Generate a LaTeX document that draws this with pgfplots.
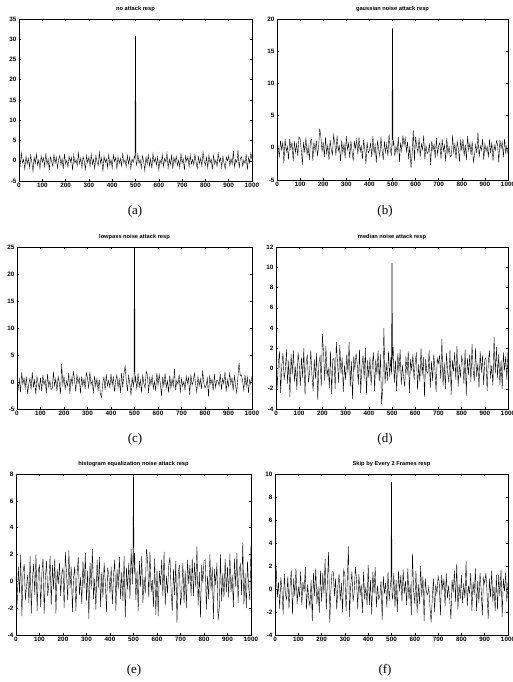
\documentclass[border=0pt]{standalone}
\usepackage{fontspec}
\setmainfont{Liberation Sans}
\newfontfamily\capfont{Liberation Serif}
\usepackage{pgfplots}
\pgfplotsset{compat=1.18}
\pgfplotsset{resp/.style={
  scale only axis,
  xmin=0, xmax=1000,
  xtick={0,100,...,1000},
  axis line style={line width=0.6pt},
  major tick style={line width=0.5pt, black},
  major tick length=2.2pt,
  tick align=inside,
  ticklabel style={font=\fontsize{6.3}{7}\selectfont\bfseries},
  xticklabel style={yshift=1pt},
  yticklabel style={xshift=1pt},
  /pgf/number format/assume math mode=true,
  /pgf/number format/1000 sep={},
  title style={font=\fontsize{5.7}{6}\selectfont\bfseries, yshift=-2.5pt},
  cycle list={{black, line width=1pt, mark=none, line join=round}},
}}
\begin{document}
\begin{tikzpicture}
\path[use as bounding box] (0,0) rectangle (512pt,-682pt);

% (a) no attack
\begin{axis}[resp, at={(19pt,-181pt)}, anchor=south west, width=233pt, height=162pt,
  ymin=-5, ymax=35, ytick={-5,0,...,35}, title={no attack resp}]
\addplot coordinates {
(0,0.8)(5,-1.2)(10,1.9)(15,-0.5)(20,0.3)(25,-2.1)(30,1.1)(35,-0.8)(40,0.6)(45,-1.6)
(50,1.4)(55,-0.3)(60,-2.6)(65,0.9)(70,-0.7)(75,1.6)(80,-1.1)(85,0.2)(90,-1.9)(95,1.2)
(100,-0.4)(105,0.7)(110,-1.4)(115,1.8)(120,-0.9)(125,0.4)(130,-2.3)(135,1.0)(140,-0.2)(145,-1.3)
(150,1.5)(155,-0.6)(160,0.9)(165,-1.8)(170,0.3)(175,1.3)(180,-1.0)(185,0.5)(190,-2.0)(195,1.7)
(200,-0.8)(205,0.1)(210,-1.5)(215,1.1)(220,-0.3)(225,0.8)(230,-2.4)(235,1.4)(240,-0.6)(245,0.2)
(250,-1.2)(255,1.9)(260,-0.7)(265,0.6)(270,-1.7)(275,1.0)(280,-0.1)(285,-2.2)(290,1.3)(295,-0.5)
(300,0.9)(305,-1.4)(310,1.6)(315,-0.9)(320,0.4)(325,-1.9)(330,1.2)(335,-0.3)(340,-1.1)(345,2.0)
(350,-0.6)(355,0.7)(360,-2.7)(365,1.1)(370,-0.4)(375,0.5)(380,-1.6)(385,1.5)(390,-1.0)(395,0.3)
(400,-1.8)(405,1.4)(410,-0.2)(415,0.8)(420,-2.1)(425,1.0)(430,-0.7)(435,0.6)(440,-1.3)(445,1.7)
(450,-0.5)(455,0.2)(460,-1.5)(465,1.3)(470,-0.8)(475,0.9)(480,-2.0)(485,0.4)(490,-0.4)(495,1.1)
(498,0.6)(499.5,30.8)(500.5,30.8)(502,-0.4)
(505,-1.0)(510,1.6)(515,-0.6)(520,0.3)(525,-1.7)(530,1.2)(535,-0.2)(540,-2.5)(545,0.9)(550,-0.8)
(555,1.4)(560,-1.3)(565,0.5)(570,-1.9)(575,1.8)(580,-0.4)(585,0.7)(590,-1.1)(595,1.0)(600,-2.2)
(605,0.2)(610,-0.7)(615,1.5)(620,-1.4)(625,0.6)(630,-0.3)(635,1.9)(640,-1.8)(645,0.4)(650,-0.9)
(655,1.3)(660,-2.0)(665,0.8)(670,-0.5)(675,1.1)(680,-1.2)(685,0.1)(690,-1.6)(695,1.7)(700,-0.6)
(705,0.5)(710,-2.3)(715,1.2)(720,-0.1)(725,0.9)(730,-1.5)(735,1.4)(740,-0.8)(745,0.3)(750,-1.0)
(755,1.6)(760,-0.4)(765,-1.9)(770,1.0)(775,-0.7)(780,0.6)(785,-1.3)(790,2.1)(795,-0.2)(800,-1.1)
(805,0.8)(810,-1.7)(815,1.3)(820,-0.5)(825,0.4)(830,-2.1)(835,1.5)(840,-0.9)(845,0.2)(850,-1.4)
(855,1.8)(860,-0.3)(865,0.7)(870,-1.6)(875,1.1)(880,-0.6)(885,-2.0)(890,0.9)(895,-0.1)(900,1.2)
(905,-1.2)(910,0.5)(915,-0.8)(920,2.4)(925,-1.5)(930,0.3)(935,-0.4)(940,2.6)(945,-1.9)(950,0.6)
(955,1.0)(960,-1.3)(965,0.2)(970,-0.7)(975,1.7)(980,-2.2)(985,0.8)(990,-0.5)(995,1.9)(1000,0.4)
};
\end{axis}

% (b) gaussian noise
\begin{axis}[resp, at={(277pt,-180pt)}, anchor=south west, width=231pt, height=161pt,
  ymin=-5, ymax=20, ytick={-5,0,...,20}, title={gaussian noise attack resp}]
\addplot coordinates {
(0,-0.8)(5,0.1)(10,-1.5)(15,1.1)(20,-0.3)(25,0.8)(30,-2.4)(35,1.4)(40,-0.6)(45,0.2)
(50,-1.8)(55,1.4)(60,-0.2)(65,0.8)(70,-2.1)(75,1.0)(80,-0.7)(85,0.6)(90,-1.3)(95,1.7)
(100,1.4)(105,-0.3)(110,-2.6)(115,0.9)(120,-0.7)(125,1.6)(130,-1.1)(135,0.2)(140,-1.9)(145,1.2)
(150,1.3)(155,-2.0)(160,0.8)(165,-0.5)(170,1.1)(175,-1.2)(180,0.1)(185,3.0)(190,1.7)(195,-0.6)
(200,0.9)(205,-1.4)(210,1.6)(215,-0.9)(220,0.4)(225,-1.9)(230,1.2)(235,-0.3)(240,-1.1)(245,2.0)
(250,0.8)(255,-1.2)(260,1.9)(265,-0.5)(270,0.3)(275,-2.1)(280,1.1)(285,-0.8)(290,0.6)(295,-1.6)
(300,1.8)(305,-0.3)(310,0.7)(315,-1.6)(320,1.1)(325,-0.6)(330,-2.0)(335,0.9)(340,-0.1)(345,1.2)
(350,-1.0)(355,1.6)(360,-0.6)(365,0.3)(370,-1.7)(375,1.2)(380,-0.2)(385,-2.5)(390,0.9)(395,-0.8)
(400,-0.4)(405,0.7)(410,-1.4)(415,1.8)(420,-0.9)(425,0.4)(430,-2.3)(435,1.0)(440,-0.2)(445,-1.3)
(450,1.6)(455,-0.4)(460,-1.9)(465,1.0)(470,-0.7)(475,0.6)(480,-1.3)(485,2.1)(490,-0.2)(495,-1.1)
(498,0.9)(499.5,18.5)(500.5,18.5)(502,0.3)
(505,1.0)(510,-1.3)(515,0.2)(520,-0.7)(525,1.7)(530,-2.2)(535,0.8)(540,-0.5)(545,1.9)(550,0.4)
(555,1.5)(560,-0.6)(565,0.9)(570,-1.8)(575,0.3)(580,-3.1)(585,-1.0)(590,2.7)(595,-2.0)(600,1.7)
(605,0.2)(610,-0.7)(615,1.5)(620,-1.4)(625,0.6)(630,-0.3)(635,1.9)(640,-1.8)(645,0.4)(650,-0.9)
(655,-0.6)(660,0.7)(665,-2.7)(670,1.1)(675,-0.4)(680,0.5)(685,-1.6)(690,1.5)(695,-1.0)(700,0.3)
(705,0.8)(710,-1.7)(715,1.3)(720,-0.5)(725,0.4)(730,-2.1)(735,1.5)(740,-0.9)(745,0.2)(750,-1.4)
(755,-1.2)(760,1.9)(765,-0.7)(770,0.6)(775,-1.7)(780,1.0)(785,-0.1)(790,-2.2)(795,1.3)(800,-0.5)
(805,1.4)(810,-1.3)(815,0.5)(820,-1.9)(825,1.8)(830,-0.4)(835,0.7)(840,-1.1)(845,1.0)(850,-2.2)
(855,-1.2)(860,0.5)(865,-0.8)(870,2.4)(875,-1.5)(880,0.3)(885,-0.4)(890,1.4)(895,-1.9)(900,0.6)
(905,-0.5)(910,0.2)(915,-1.5)(920,1.3)(925,-0.8)(930,0.9)(935,-2.0)(940,0.4)(945,-0.4)(950,1.1)
(955,0.5)(960,-2.3)(965,1.2)(970,-0.1)(975,0.9)(980,-1.5)(985,1.4)(990,-0.8)(995,0.3)(1000,-1.0)
};
\end{axis}

% (c) lowpass noise
\begin{axis}[resp, at={(17pt,-409pt)}, anchor=south west, width=235pt, height=162pt,
  ymin=-5, ymax=25, ytick={-5,0,...,25}, title={lowpass noise attack resp}]
\addplot coordinates {
(0,1.4)(5,-1.3)(10,0.5)(15,-1.9)(20,1.8)(25,-0.4)(30,0.7)(35,-1.1)(40,1.0)(45,-2.2)
(50,-0.4)(55,0.7)(60,-1.4)(65,1.8)(70,-0.9)(75,0.4)(80,-2.3)(85,1.0)(90,-0.2)(95,-1.3)
(100,0.8)(105,-1.7)(110,1.3)(115,-0.5)(120,0.4)(125,-2.1)(130,1.5)(135,-0.9)(140,0.2)(145,-1.4)
(150,-1.2)(155,1.9)(160,-0.7)(165,0.6)(170,-1.7)(175,1.0)(180,-0.1)(185,-2.2)(190,3.3)(195,-0.5)
(200,1.0)(205,-1.3)(210,0.2)(215,-0.7)(220,1.7)(225,-2.2)(230,0.8)(235,-0.5)(240,1.9)(245,0.4)
(250,-1.8)(255,1.4)(260,-0.2)(265,0.8)(270,-2.1)(275,1.0)(280,-0.7)(285,0.6)(290,-1.3)(295,1.7)
(300,0.8)(305,-1.2)(310,1.9)(315,-0.5)(320,0.3)(325,-2.1)(330,1.1)(335,-0.8)(340,0.6)(345,-1.6)
(350,0.5)(355,-2.3)(360,-2.9)(365,-0.1)(370,0.9)(375,-1.5)(380,1.4)(385,-0.8)(390,0.3)(395,-1.0)
(400,1.5)(405,-0.6)(410,0.9)(415,-1.8)(420,0.3)(425,1.3)(430,-1.0)(435,0.5)(440,-2.0)(445,1.7)
(450,-1.0)(455,1.6)(460,2.9)(465,0.3)(470,-1.7)(475,1.2)(480,-0.2)(485,-2.5)(490,0.9)(495,-0.8)
(498,0.4)(499.5,28)(500.5,28)(502,-0.2)
(505,0.9)(510,-1.4)(515,1.6)(520,-0.9)(525,0.4)(530,-1.9)(535,1.2)(540,-0.3)(545,-1.1)(550,2.0)
(555,1.3)(560,-2.0)(565,0.8)(570,-0.5)(575,1.1)(580,-1.2)(585,0.1)(590,-1.6)(595,1.7)(600,-0.6)
(605,1.4)(610,-0.3)(615,-2.6)(620,0.9)(625,-0.7)(630,1.6)(635,-1.1)(640,0.2)(645,-1.9)(650,1.2)
(655,-1.2)(660,0.5)(665,-0.8)(670,2.4)(675,-1.5)(680,0.3)(685,-0.4)(690,1.4)(695,-1.9)(700,0.6)
(705,-0.8)(710,0.1)(715,-1.5)(720,1.1)(725,-0.3)(730,0.8)(735,-2.4)(740,1.4)(745,-0.6)(750,0.2)
(755,1.6)(760,-0.4)(765,-1.9)(770,1.0)(775,-0.7)(780,0.6)(785,-1.3)(790,2.1)(795,-0.2)(800,-1.1)
(805,-0.6)(810,0.7)(815,-2.7)(820,1.1)(825,-0.4)(830,0.5)(835,-1.6)(840,1.5)(845,-1.0)(850,0.3)
(855,0.2)(860,-0.7)(865,1.5)(870,-1.4)(875,0.6)(880,-0.3)(885,1.9)(890,-1.8)(895,0.4)(900,-0.9)
(905,1.8)(910,-0.3)(915,0.7)(920,-1.6)(925,1.1)(930,-0.6)(935,-2.0)(940,0.9)(945,3.5)(950,1.2)
(955,1.3)(960,0.2)(965,-1.5)(970,1.3)(975,-0.8)(980,0.9)(985,-2.0)(990,0.4)(995,-0.4)(1000,1.1)
};
\end{axis}

% (d) median noise
\begin{axis}[resp, at={(276pt,-409pt)}, anchor=south west, width=232pt, height=162pt,
  ymin=-4, ymax=12, ytick={-4,-2,...,12}, title={median noise attack resp}]
\addplot coordinates {
(0,1.2)(5,-1.9)(10,0.6)(15,1.7)(20,-2.4)(25,0.3)(30,1.5)(35,-1.1)(40,-0.2)(45,1.9)
(50,-1.5)(55,0.8)(60,-2.8)(65,1.4)(70,-0.6)(75,1.8)(80,-1.3)(85,0.2)(90,-2.1)(95,1.6)
(100,0.4)(105,-1.7)(110,1.1)(115,-0.9)(120,2.0)(125,-2.6)(130,0.7)(135,1.3)(140,-1.4)(145,-0.3)
(150,1.8)(155,-0.7)(160,-2.2)(165,0.9)(170,-1.0)(175,1.5)(180,-3.1)(185,0.5)(190,1.2)(195,-1.8)
(200,3.4)(205,1.6)(210,-1.2)(215,2.2)(220,-0.8)(225,0.1)(230,-1.9)(235,1.7)(240,-2.5)(245,0.9)
(250,1.0)(255,-2.0)(260,2.6)(265,0.6)(270,-1.4)(275,2.3)(280,-0.5)(285,1.1)(290,-2.3)(295,0.3)
(300,-1.1)(305,1.4)(310,-0.4)(315,2.6)(320,-1.8)(325,0.7)(330,-3.0)(335,1.2)(340,-0.1)(345,1.5)
(350,0.5)(355,-1.6)(360,1.9)(365,-2.4)(370,0.2)(375,1.3)(380,-1.0)(385,2.0)(390,-2.6)(395,0.8)
(400,-0.9)(405,1.1)(410,-1.7)(415,0.4)(420,1.6)(425,-2.2)(430,0.9)(435,-0.6)(440,1.8)(445,-1.3)
(450,1.4)(455,-3.5)(460,-2.0)(465,4.0)(470,-1.5)(475,0.6)(480,-1.2)(485,1.7)(490,-0.8)(495,1.1)
(498,-0.6)(499.5,10.4)(500.5,10.4)(502,0.8)
(505,2.1)(510,-1.4)(515,0.8)(520,-2.2)(525,1.5)(530,-0.4)(535,1.9)(540,-1.6)(545,0.3)(550,-0.9)
(555,-1.8)(560,1.2)(565,-0.6)(570,1.7)(575,-2.4)(580,0.9)(585,-0.2)(590,1.4)(595,-1.1)(600,0.6)
(605,1.6)(610,-2.1)(615,0.4)(620,-1.3)(625,2.0)(630,-0.7)(635,1.1)(640,-2.8)(645,0.9)(650,-0.3)
(655,-0.5)(660,1.8)(665,-1.9)(670,0.7)(675,-1.2)(680,1.4)(685,-0.1)(690,-2.3)(695,1.0)(700,0.5)
(705,1.3)(710,-1.0)(715,2.9)(720,-1.7)(725,0.6)(730,-2.0)(735,1.5)(740,-0.4)(745,-1.4)(750,1.9)
(755,-2.6)(760,0.8)(765,-0.3)(770,1.6)(775,-1.1)(780,2.2)(785,-1.8)(790,0.4)(795,-0.9)(800,1.2)
(805,0.7)(810,-1.5)(815,1.9)(820,-2.7)(825,1.0)(830,-0.6)(835,1.4)(840,-1.3)(845,2.4)(850,-0.2)
(855,-1.2)(860,2.0)(865,-0.8)(870,0.5)(875,-1.9)(880,1.7)(885,-0.4)(890,1.3)(895,-1.6)(900,0.9)
(905,1.1)(910,-2.2)(915,0.6)(920,1.8)(925,-1.0)(930,0.3)(935,-1.7)(940,3.1)(945,-0.5)(950,2.1)
(955,-0.9)(960,1.4)(965,-1.6)(970,0.8)(975,-2.0)(980,1.6)(985,-0.2)(990,1.2)(995,-1.1)(1000,1.7)
};
\end{axis}

% (e) histogram equalization
\begin{axis}[resp, at={(16pt,-635pt)}, anchor=south west, width=235pt, height=161pt,
  ymin=-4, ymax=8, ytick={-4,-2,...,8}, title={histogram equalization noise attack resp}]
\addplot coordinates {
(0,0.4)(5,-1.7)(10,1.1)(15,-0.9)(20,2.0)(25,-2.6)(30,0.7)(35,1.3)(40,-1.4)(45,-0.3)
(50,0.5)(55,-1.6)(60,1.9)(65,-2.4)(70,0.2)(75,1.3)(80,-1.0)(85,2.0)(90,-2.2)(95,0.8)
(100,1.2)(105,-1.9)(110,0.6)(115,1.7)(120,-2.4)(125,0.3)(130,1.5)(135,-1.1)(140,-0.2)(145,1.9)
(150,-1.8)(155,1.2)(160,-0.6)(165,1.7)(170,-2.4)(175,0.9)(180,-0.2)(185,1.4)(190,-1.1)(195,0.6)
(200,1.0)(205,-2.0)(210,2.2)(215,0.6)(220,-1.4)(225,2.3)(230,-0.5)(235,1.1)(240,-2.3)(245,0.3)
(250,1.1)(255,-2.2)(260,0.6)(265,1.8)(270,-1.0)(275,0.3)(280,-1.7)(285,1.5)(290,-0.5)(295,2.1)
(300,-1.5)(305,0.8)(310,-2.8)(315,1.4)(320,-0.6)(325,2.4)(330,-1.3)(335,0.2)(340,-2.1)(345,1.6)
(350,-0.5)(355,1.8)(360,-1.9)(365,0.7)(370,-1.2)(375,1.4)(380,-0.1)(385,-2.3)(390,1.0)(395,0.5)
(400,-0.9)(405,1.1)(410,-1.7)(415,0.4)(420,1.6)(425,-2.2)(430,0.9)(435,-0.6)(440,1.8)(445,-1.3)
(450,0.7)(455,-1.5)(460,1.9)(465,-2.7)(470,1.0)(475,-0.6)(480,1.4)(485,-1.3)(490,2.4)(495,-0.2)
(498,2.2)(499.5,7.8)(500.5,7.8)(502,0.5)
(505,2.1)(510,-1.4)(515,0.8)(520,-2.2)(525,1.5)(530,-0.4)(535,1.9)(540,-1.6)(545,0.3)(550,-0.9)
(555,2.4)(560,1.6)(565,-1.2)(570,2.2)(575,-0.8)(580,0.1)(585,-1.9)(590,1.7)(595,-2.5)(600,0.9)
(605,-2.6)(610,0.8)(615,-0.3)(620,1.6)(625,-1.1)(630,2.2)(635,-1.8)(640,0.4)(645,-0.9)(650,1.2)
(655,1.8)(660,-0.7)(665,-2.2)(670,0.9)(675,-1.0)(680,1.5)(685,-3.1)(690,0.5)(695,1.2)(700,-1.8)
(705,-0.9)(710,1.4)(715,-1.6)(720,0.8)(725,-2.0)(730,1.6)(735,-0.2)(740,1.2)(745,-1.1)(750,1.7)
(755,-1.1)(760,1.4)(765,-0.4)(770,2.6)(775,-1.8)(780,0.7)(785,-2.7)(790,1.2)(795,-0.1)(800,1.5)
(805,1.6)(810,-2.1)(815,0.4)(820,-1.3)(825,2.0)(830,-0.7)(835,1.1)(840,-2.8)(845,0.9)(850,-0.3)
(855,1.4)(860,-2.9)(865,-2.0)(870,2.0)(875,-1.5)(880,0.6)(885,-1.2)(890,1.7)(895,-0.8)(900,1.1)
(905,-1.2)(910,2.0)(915,-0.8)(920,0.5)(925,-1.9)(930,1.7)(935,-0.4)(940,2.1)(945,-1.6)(950,0.9)
(955,1.3)(960,-1.0)(965,2.9)(970,-1.7)(975,0.6)(980,-2.0)(985,1.5)(990,-0.4)(995,-1.4)(1000,2.7)
};
\end{axis}

% (f) skip frames
\begin{axis}[resp, at={(275pt,-635pt)}, anchor=south west, width=233pt, height=161pt,
  ymin=-4, ymax=10, ytick={-4,-2,...,10}, title={Skip by Every 2 Frames resp}]
\addplot coordinates {
(0,-1.2)(5,1.9)(10,-0.7)(15,0.6)(20,-1.7)(25,1.0)(30,-0.1)(35,-2.2)(40,1.3)(45,-0.5)
(50,-0.9)(55,1.1)(60,-1.7)(65,0.4)(70,1.6)(75,-2.2)(80,0.9)(85,-0.6)(90,1.8)(95,-1.3)
(100,0.2)(105,-0.7)(110,1.5)(115,-1.4)(120,0.6)(125,-0.3)(130,1.9)(135,-1.8)(140,0.4)(145,-0.9)
(150,-1.5)(155,0.8)(160,-2.8)(165,1.4)(170,-0.6)(175,1.8)(180,-1.3)(185,0.2)(190,-2.1)(195,1.6)
(200,-1.1)(205,1.4)(210,-0.4)(215,2.6)(220,-1.8)(225,0.7)(230,3.2)(235,-2.9)(240,-0.1)(245,1.5)
(250,1.5)(255,-0.6)(260,0.9)(265,-1.8)(270,0.3)(275,1.3)(280,-1.0)(285,0.5)(290,-2.0)(295,1.7)
(300,1.2)(305,-1.9)(310,0.6)(315,3.7)(320,-2.4)(325,0.3)(330,1.5)(335,-1.1)(340,-0.2)(345,1.9)
(350,0.8)(355,-1.7)(360,1.3)(365,-0.5)(370,0.4)(375,-2.1)(380,1.5)(385,-0.9)(390,0.2)(395,-1.4)
(400,2.1)(405,-1.4)(410,0.8)(415,-2.2)(420,1.5)(425,-0.4)(430,1.9)(435,-1.6)(440,0.3)(445,-0.9)
(450,-0.6)(455,0.7)(460,-2.7)(465,1.1)(470,-0.4)(475,0.5)(480,-1.6)(485,1.5)(490,-1.0)(495,0.3)
(498,0.8)(499.5,9.3)(500.5,9.3)(502,-0.5)
(505,-0.9)(510,1.4)(515,-1.6)(520,0.8)(525,-2.0)(530,1.6)(535,-0.2)(540,1.2)(545,-1.1)(550,1.7)
(555,-0.4)(560,0.7)(565,-1.4)(570,1.8)(575,-0.9)(580,0.4)(585,-2.3)(590,3.1)(595,-0.2)(600,-1.3)
(605,1.6)(610,-2.1)(615,0.4)(620,-1.3)(625,2.0)(630,-0.7)(635,1.1)(640,-2.8)(645,0.9)(650,-0.3)
(655,-0.5)(660,0.2)(665,-1.5)(670,-2.9)(675,-0.8)(680,0.9)(685,-2.0)(690,0.4)(695,-0.4)(700,1.1)
(705,0.5)(710,-2.3)(715,1.2)(720,-0.1)(725,0.9)(730,-1.5)(735,1.4)(740,-0.8)(745,0.3)(750,-1.0)
(755,-2.6)(760,0.8)(765,-0.3)(770,1.6)(775,-1.1)(780,2.2)(785,-1.8)(790,0.4)(795,-0.9)(800,1.2)
(805,-1.2)(810,0.5)(815,-0.8)(820,2.4)(825,-1.5)(830,0.3)(835,-0.4)(840,1.4)(845,-1.9)(850,0.6)
(855,-0.5)(860,1.8)(865,-1.9)(870,0.7)(875,-1.2)(880,1.4)(885,-0.1)(890,-2.3)(895,1.0)(900,0.5)
(905,1.4)(910,-0.3)(915,-2.6)(920,0.9)(925,-0.7)(930,1.6)(935,-1.1)(940,0.2)(945,-1.9)(950,1.2)
(955,-1.8)(960,1.2)(965,-0.6)(970,1.7)(975,-2.4)(980,0.9)(985,-0.2)(990,1.4)(995,-1.1)(1000,0.6)
};
\end{axis}

\begin{scope}[every node/.style={font=\capfont\fontsize{13}{15}\selectfont}]
\node at (135pt,-211pt) {(a)};
\node at (385pt,-211pt) {(b)};
\node at (135pt,-439pt) {(c)};
\node at (385pt,-439pt) {(d)};
\node at (134pt,-670pt) {(e)};
\node at (385pt,-670pt) {(f)};
\end{scope}
\end{tikzpicture}
\end{document}
